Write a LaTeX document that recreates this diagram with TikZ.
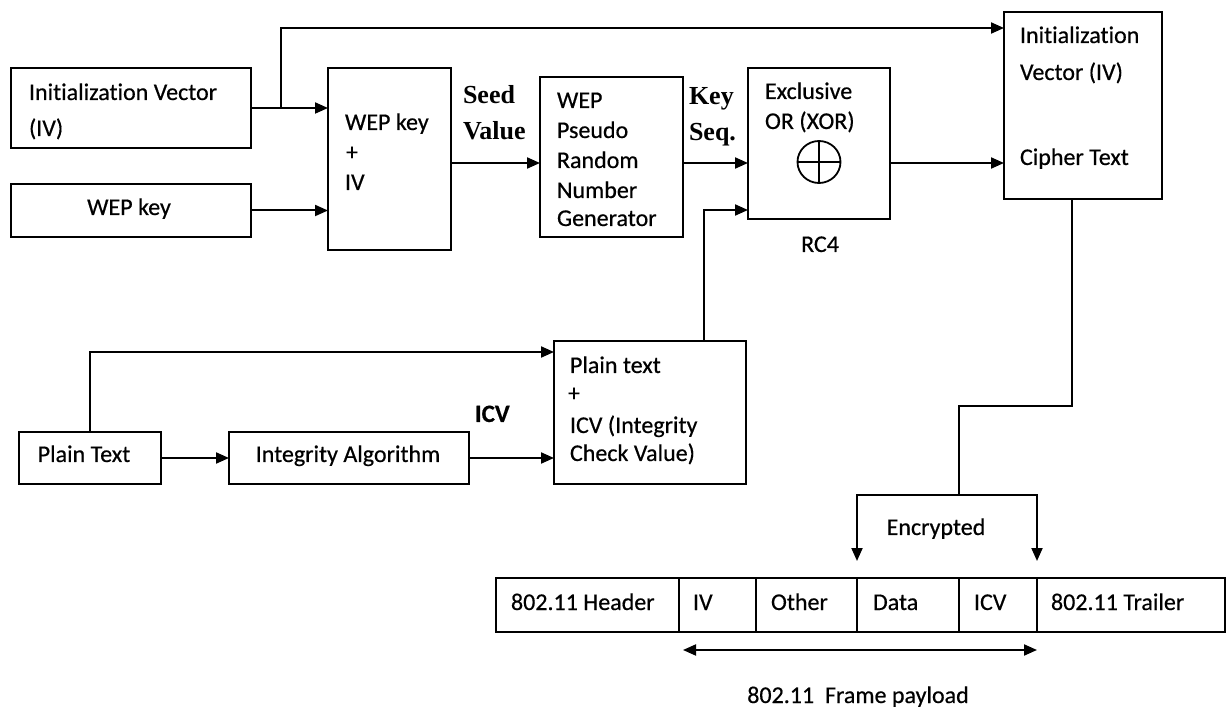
\documentclass[tikz,border=0pt]{standalone}
\usepackage{fontspec}
\setmainfont{Carlito}[FakeBold=0.5,Ligatures=NoCommon]
\newfontfamily\seriffont{Liberation Serif}
\usetikzlibrary{arrows.meta,fit,shapes.geometric}
\begin{document}
\begin{tikzpicture}[x=1pt,y=-1pt,
  box/.style={draw,line width=2pt,inner sep=0pt,outer sep=0pt},
  txt/.style={inner sep=0pt,outer sep=0pt,font=\fontsize{24}{28}\selectfont},
  btxt/.style={inner sep=0pt,outer sep=0pt,font=\fontsize{25}{28}\selectfont\bfseries},
  stxt/.style={inner sep=0pt,outer sep=0pt,font=\fontsize{26}{30}\selectfont\seriffont\bfseries},
  wire/.style={line width=2pt},
  conn/.style={wire,-{Triangle[length=13pt,width=11pt]}},
  dconn/.style={wire,{Triangle[length=13pt,width=11pt]}-{Triangle[length=13pt,width=11pt]}}]
\useasboundingbox (0,0) rectangle (1227,708);

% ---- boxes ----
\node[box,fit={(11,68)(251,148)}]   (ivin)  {};
\node[box,fit={(11,184)(251,237)}]  (keyin) {};
\node[box,fit={(328,68)(451,250)}]  (seed)  {};
\node[box,fit={(540,77)(683,237)}]  (prng)  {};
\node[box,fit={(748,68)(890,219)}]  (xor)   {};
\node[box,fit={(1004,12)(1162,199)}] (out)  {};
\node[box,fit={(19,432)(161,484)}]  (ptxt)  {};
\node[box,fit={(229,432)(469,484)}] (integ) {};
\node[box,fit={(554,341)(746,484)}] (ptic)  {};

% ---- 802.11 frame ----
\node[box,fit={(496,578)(679,632)}]  (fhdr) {};
\node[box,fit={(679,578)(756,632)}]  (fiv)  {};
\node[box,fit={(756,578)(857,632)}]  (foth) {};
\node[box,fit={(857,578)(959,632)}]  (fdat) {};
\node[box,fit={(959,578)(1037,632)}] (ficv) {};
\node[box,fit={(1037,578)(1225,632)}] (ftrl) {};

% ---- XOR symbol ----
\node[draw,ellipse,line width=1.8pt,minimum width=43pt,minimum height=42pt,inner sep=0pt] (xsym) at (819,162) {};
\draw[line width=1.8pt] (xsym.north) -- (xsym.south) (xsym.west) -- (xsym.east);

% ---- texts ----
\node[txt,anchor=base west] (t1) at (29,100) {Initialization Vector};
\node[txt,anchor=base west] (t2) at (29,136) {(IV)};
\node[txt,anchor=base] (t3) at (129,215) {WEP key};
\node[txt,anchor=base west] (t4) at (345,130) {WEP key};
\node[txt,anchor=base] (t5) at (352,160) {+};
\node[txt,anchor=base west] (t6) at (345,190) {IV};
\node[stxt,anchor=base west] (t7) at (463,104) {Seed};
\node[stxt,anchor=base west] (t8) at (463,140) {Value};
\node[txt,anchor=base west] (t9) at (557,108) {WEP};
\node[txt,anchor=base west] (t10) at (557,138) {Pseudo};
\node[txt,anchor=base west] (t11) at (557,168) {Random};
\node[txt,anchor=base west] (t12) at (557,198) {Number};
\node[txt,anchor=base west] (t13) at (557,226) {Generator};
\node[stxt,anchor=base west] (t14) at (689,105) {Key};
\node[stxt,anchor=base west] (t15) at (689,141) {Seq.};
\node[txt,anchor=base west] (t16) at (765,99) {Exclusive};
\node[txt,anchor=base west] (t17) at (765,129) {OR (XOR)};
\node[txt,anchor=base] (t18) at (820,252) {RC4};
\node[txt,anchor=base west] (t19) at (1020,43) {Initialization};
\node[txt,anchor=base west] (t20) at (1020,80) {Vector (IV)};
\node[txt,anchor=base west] (t21) at (1020,165) {Cipher Text};
\node[txt,anchor=base] (t22) at (84,462) {Plain Text};
\node[txt,anchor=base] (t23) at (348,462) {Integrity Algorithm};
\node[btxt,anchor=base west] (t24) at (475,422) {ICV};
\node[txt,anchor=base west] (t25) at (570,373) {Plain text};
\node[txt,anchor=base] (t26) at (574,401) {+};
\node[txt,anchor=base west] (t27) at (570,433) {ICV (Integrity};
\node[txt,anchor=base west] (t28) at (570,461) {Check Value)};
\node[txt,anchor=base] (t29) at (936,535) {Encrypted};
\node[txt,anchor=base west] (t30) at (511,610) {802.11 Header};
\node[txt,anchor=base west] (t31) at (693,610) {IV};
\node[txt,anchor=base west] (t32) at (771,610) {Other};
\node[txt,anchor=base west] (t33) at (873,610) {Data};
\node[txt,anchor=base west] (t34) at (974,610) {ICV};
\node[txt,anchor=base west] (t35) at (1051,610) {802.11 Trailer};
\node[txt,anchor=base] (t36) at (858,703) {802.11\ \ Frame payload};

% ---- connectors ----
\coordinate (ky)   at (0,163);
\coordinate (jog)  at (0,406);
\coordinate (fork) at (0,495);
\coordinate (ivsplit) at (281,108);

\draw[conn] (ivin.east) -- (ivin.east -| seed.west);
\draw[conn] (ivsplit) |- ([yshift=-16pt]out.north west);
\draw[conn] (keyin.east) -- (keyin.east -| seed.west);
\draw[conn] (seed.east |- ky) -- (prng.west |- ky);
\draw[conn] (prng.east |- ky) -- (xor.west |- ky);
\draw[conn] (xor.east |- ky) -- (out.west |- ky);
\draw[conn] ([xshift=54pt]ptic.north) |- ([yshift=9pt]xor.south west);
\draw[conn] (ptxt.east) -- (integ.west);
\draw[conn] (integ.east) -- (integ.east -| ptic.west);
\draw[conn] (ptxt.north) |- ([yshift=-11pt]ptic.north west);
\draw[wire] ([xshift=-11pt]out.south) |- (jog -| ficv.west) -- (fork -| ficv.west);
\draw[conn] (fork -| ficv.west) -| ([yshift=17pt]fdat.north west);
\draw[conn] (fork -| ficv.west) -| ([yshift=17pt]ficv.north east);
\draw[dconn] ([xshift=4pt,yshift=-18pt]fiv.south west) -- ([yshift=-18pt]ficv.south east);
\end{tikzpicture}
\end{document}
